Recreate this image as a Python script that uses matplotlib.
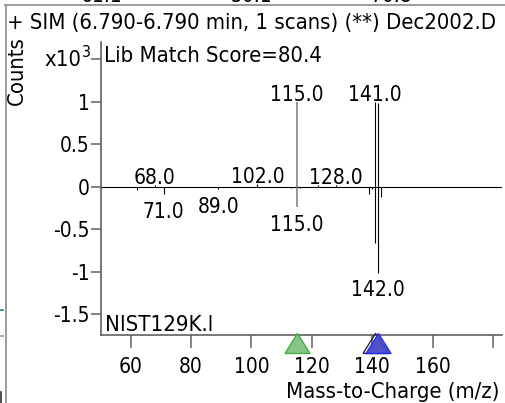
import matplotlib
matplotlib.use("Agg")
import matplotlib.pyplot as plt
from matplotlib import font_manager as fm
from matplotlib.transforms import blended_transform_factory
from matplotlib.lines import Line2D

W, H, DPI = 505, 403, 100

# Sample spectrum (upper) and library spectrum (lower, mirrored), counts x10^3
sample_mz = [68, 102, 115, 122, 128, 141, 142]
sample_ab = [0.02, 0.03, 1.00, 0.02, 0.02, 1.00, 0.99]
library_mz = [62, 71, 89, 113, 115, 116, 139, 140, 141, 142, 143]
library_ab = [-0.04, -0.09, -0.03, -0.02, -0.24, -0.02, -0.08, -0.03, -0.66, -1.01, -0.12]

# Annotated peaks
sample_labels = [68.0, 102.0, 115.0, 128.0, 141.0]
library_labels = [71.0, 89.0, 115.0, 142.0]

# Ion markers below the m/z axis
marker_mz = [115, 141, 142]
marker_face = ["#80c080", "none", "#4848c8"]
marker_edge = ["#3caa3c", "#202020", "#2828f0"]

x_ticks = [60, 80, 100, 120, 140, 160, 180]
x_tick_labels = ["60", "80", "100", "120", "140", "160", ""]
y_ticks = [-1.5, -1, -0.5, 0, 0.5, 1, 1.5]
y_tick_labels = ["-1.5", "-1", "-0.5", "0", "0.5", "1", ""]

title_text = "+ SIM (6.790-6.790 min, 1 scans) (**) Dec2002.D"
score_text = "Lib Match Score=80.4"
library_name = "NIST129K.l"
x_label = "Mass-to-Charge (m/z)"
y_label = "Counts"
upper_panel_values = [("61.1", 101), ("50.1", 251), ("70.8", 391)]

# Prefer a condensed humanist sans face
font_name, font_stretch = "Liberation Sans", "normal"
for f in fm.fontManager.ttflist:
    if f.fname.endswith("DejaVuSansCondensed.ttf"):
        font_name, font_stretch = f.name, f.stretch
        break
plt.rcParams["font.family"] = [font_name, "DejaVu Sans"]
plt.rcParams["font.stretch"] = font_stretch

FS_NUM = 15.0   # numbers: tick labels and peak labels
FS_TXT = 15.8   # words: title, axis titles, notes


def fx(px):
    return px / W


def fy(py):
    return 1 - py / H


fig = plt.figure(figsize=(W / DPI, H / DPI), dpi=DPI)
fig.patch.set_facecolor("white")

ax_l, ax_r, ax_t, ax_b = 101, 502, 42, 335
ax = fig.add_axes([fx(ax_l), fy(ax_b), fx(ax_r) - fx(ax_l), (ax_b - ax_t) / H])
ax.set_xlim(50.2, 183.0)
ax.set_ylim(-1.744, 1.702)

# spectra
gray_peaks = [115]
for mz, ab in zip(sample_mz, sample_ab):
    c, lw = ("#7a7a7a", 1.1) if mz in gray_peaks else ("black", 0.8)
    ax.vlines(mz, 0, ab, color=c, lw=lw)
for mz, ab in zip(library_mz, library_ab):
    c, lw = ("#7a7a7a", 1.1) if mz in gray_peaks else ("black", 0.8)
    ax.vlines(mz, 0, ab, color=c, lw=lw)
ax.axhline(0, color="black", lw=0.8, zorder=1)

for lab in sample_labels:
    ab = sample_ab[sample_mz.index(int(lab))]
    ax.annotate(f"{lab:.1f}", (lab, ab), xytext=(0, 0.5), textcoords="offset points",
                ha="center", va="baseline", fontsize=FS_NUM)
for lab in library_labels:
    ab = library_ab[library_mz.index(int(lab))]
    ax.annotate(f"{lab:.1f}", (lab, ab), xytext=(0, -5.5), textcoords="offset points",
                ha="center", va="top", fontsize=FS_NUM)

# axes styling
for s in ["top", "right"]:
    ax.spines[s].set_visible(False)
for s in ["left", "bottom"]:
    ax.spines[s].set_color("#606060")
    ax.spines[s].set_linewidth(1.2)
ax.set_xticks(x_ticks)
ax.set_xticklabels(x_tick_labels)
ax.set_yticks(y_ticks)
ax.set_yticklabels(y_tick_labels)
ax.tick_params(axis="x", length=9.5, width=1.1, color="#606060", pad=6.5, labelsize=FS_NUM)
ax.tick_params(axis="y", length=7.5, width=1.1, color="#606060", pad=0.5, labelsize=FS_NUM)

# ion markers sitting on the m/z axis
tri = [(-1.25, -1.0), (1.25, -1.0), (0.0, 1.0), (-1.25, -1.0)]
trans = blended_transform_factory(ax.transData, ax.transAxes)
for mz, fc, ec in zip(marker_mz, marker_face, marker_edge):
    ax.plot([mz], [-7.8 / (ax_b - ax_t)], marker=tri, ms=18, mfc=fc, mec=ec,
            mew=1.0, transform=trans, clip_on=False, zorder=5, alpha=0.95)

# texts
fig.text(fx(7), fy(29), title_text, fontsize=FS_TXT, va="baseline", ha="left")
fig.text(fx(104), fy(62), score_text, fontsize=FS_TXT, va="baseline", ha="left")
fig.text(fx(81), fy(66), "x10", fontsize=FS_TXT, va="baseline", ha="right")
fig.text(fx(82), fy(57), "3", fontsize=FS_TXT * 0.72, va="baseline", ha="left")
fig.text(fx(17), fy(71), y_label, fontsize=FS_TXT, rotation=90, va="center", ha="center")
fig.text(fx(105), fy(331), library_name, fontsize=FS_TXT, va="baseline", ha="left")
fig.text(fx(500), fy(398), x_label, fontsize=FS_TXT, va="baseline", ha="right")

# neighbouring panel edges
fig.add_artist(Line2D([fx(5), 1], [fy(5), fy(5)], color="#8a8a8a", lw=1.2))
fig.add_artist(Line2D([fx(5.5), fx(5.5)], [fy(5), 0], color="#9a9a9a", lw=1.4))
for txt, xc in upper_panel_values:
    fig.text(fx(xc), fy(2.5), txt, fontsize=FS_NUM, va="baseline", ha="center")
fig.add_artist(Line2D([0, fx(3)], [fy(310), fy(310)], color="#2a7a8a", lw=1.2))
fig.add_artist(Line2D([0, fx(3)], [fy(336), fy(336)], color="#9a9a9a", lw=1.2))
fig.add_artist(Line2D([fx(1), fx(1)], [fy(392), 0], color="#303030", lw=1.2))

fig.savefig("out.png", dpi=DPI, facecolor="white")
